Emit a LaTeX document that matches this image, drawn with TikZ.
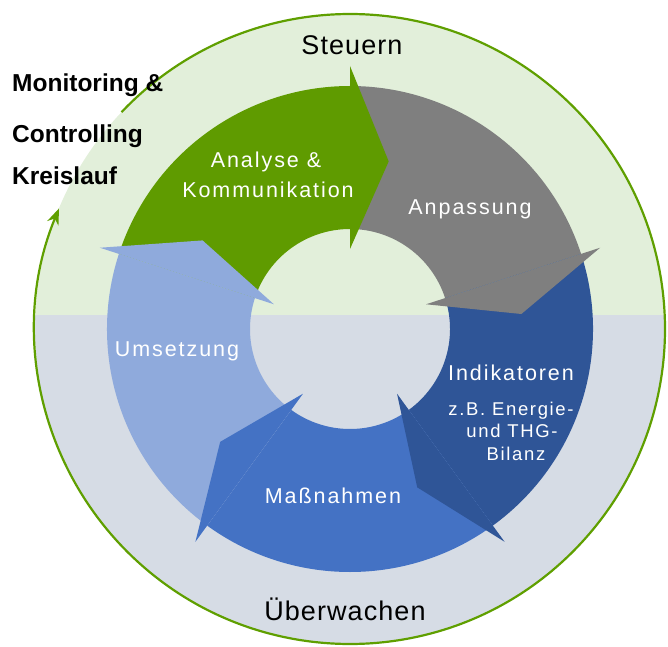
\documentclass[tikz,border=0pt]{standalone}
\usepackage{fontspec}
\setmainfont{Liberation Sans}
\newfontfamily\spacedfont[LetterSpace=9]{Liberation Sans}
\newfontfamily\widefont[LetterSpace=4]{Liberation Sans}
\usetikzlibrary{arrows.meta}
\definecolor{bgtop}{HTML}{E2EFDA}
\definecolor{bgbot}{HTML}{D6DCE5}
\definecolor{segGreen}{HTML}{5F9B00}
\definecolor{segGray}{HTML}{7F7F7F}
\definecolor{segDark}{HTML}{2F5597}
\definecolor{segMid}{HTML}{4472C4}
\definecolor{segLight}{HTML}{8FAADC}
\definecolor{ringline}{HTML}{5F9F00}
\begin{document}
\begin{tikzpicture}[x=1pt,y=1pt,
  wlbl/.style={text=white, inner sep=0pt, anchor=base, font=\spacedfont\fontsize{21.5}{26}\selectfont},
  wsmall/.style={text=white, inner sep=0pt, anchor=base, font=\spacedfont\fontsize{18.5}{22}\selectfont},
  blbl/.style={text=black, inner sep=0pt, anchor=base, font=\widefont\fontsize{27}{32}\selectfont},
  boldlbl/.style={text=black, inner sep=0pt, anchor=base west, font=\bfseries\fontsize{24.5}{28}\selectfont},
  outerline/.style={draw=ringline, line width=2.2pt}]
\useasboundingbox (0,0) rectangle (668,646);
\coordinate (C) at (350,317);
% background disc
\fill[bgtop] (C) circle[radius=315pt];
\begin{scope}
  \clip (C) circle[radius=315pt];
  \fill[bgbot] (0,0) rectangle (668,331);
\end{scope}
\begin{scope}[shift={(350,317)}]
  % ring bodies
  \foreach \a/\b/\c in {162/90/segGreen, 90/18/segGray, 18/-54/segDark, -54/-126/segMid, -126/-198/segLight}
    \fill[\c] (\a:243pt) arc[start angle=\a, end angle=\b, radius=243pt]
      -- (\b:100pt) arc[start angle=\b, end angle=\a, radius=100pt] -- cycle;
  % arrow heads
  \foreach \b/\c in {90/segGreen, 18/segGray, -54/segDark, -126/segMid, -198/segLight}
    \fill[\c] (\b:80pt) -- (\b:263pt) -- ({\b-13}:172pt) -- cycle;
  % outer circular arrow
  \draw[outerline, -{Stealth[length=16pt,width=12pt]}] (136.5:315pt)
    arc[start angle=136.5, end angle=-202.5, radius=315pt];
\end{scope}
% labels
\node[blbl] (steuern) at (352,591) {Steuern};
\node[blbl] (ueberwachen) at (345,26) {Überwachen};
\node[wlbl] (analyse) at (266,478) {Analyse \&};
\node[wlbl] (kommunikation) at (268,448) {Kommunikation};
\node[wlbl] (anpassung) at (470,431) {Anpassung};
\node[wlbl] (umsetzung) at (177,290) {Umsetzung};
\node[wlbl] (massnahmen) at (333,143) {Maßnahmen};
\node[wlbl] (indikatoren) at (511,266) {Indikatoren};
\node[wsmall] (zb) at (511,231) {z.B. Energie-};
\node[wsmall] (thg) at (512,209) {und THG-};
\node[wsmall] (bilanz) at (516,186) {Bilanz};
\node[boldlbl] (monitoring) at (12,554) {Monitoring \&};
\node[boldlbl] (controlling) at (12,503) {Controlling};
\node[boldlbl] (kreislauf) at (12,461) {Kreislauf};
\end{tikzpicture}
\end{document}
